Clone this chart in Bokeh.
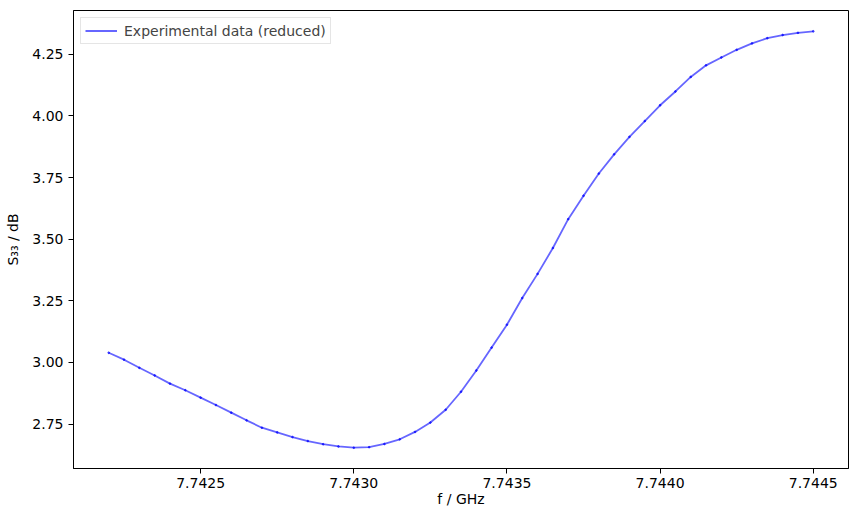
from bokeh.plotting import figure
from bokeh.models import FixedTicker, PrintfTickFormatter, Range1d
from bokeh.embed import file_html
from bokeh.resources import INLINE

# Frequencies (GHz) and reflection S33 (dB)
freq_ghz = [7.74220 + 0.00005 * k for k in range(47)]
s33_db = [3.039, 3.011, 2.978, 2.947, 2.914, 2.887, 2.857, 2.827, 2.796, 2.765,
          2.735, 2.716, 2.697, 2.681, 2.668, 2.659, 2.654, 2.656, 2.669, 2.688,
          2.718, 2.756, 2.808, 2.881, 2.967, 3.060, 3.153, 3.261, 3.359, 3.464,
          3.581, 3.676, 3.766, 3.844, 3.915, 3.979, 4.043, 4.099, 4.158, 4.205,
          4.237, 4.268, 4.294, 4.315, 4.328, 4.337, 4.343]

x_ticks = [7.7425, 7.7430, 7.7435, 7.7440, 7.7445]
y_ticks = [2.75, 3.00, 3.25, 3.50, 3.75, 4.00, 4.25]
legend_text = "Experimental data (reduced)"

xmin, xmax = min(freq_ghz), max(freq_ghz)
ymin, ymax = min(s33_db), max(s33_db)
xm = 0.05 * (xmax - xmin)
ym = 0.05 * (ymax - ymin)

p = figure(width=850, height=509, output_backend="svg", toolbar_location=None,
           x_range=Range1d(xmin - xm, xmax + xm), y_range=Range1d(ymin - ym, ymax + ym),
           min_border_left=73, min_border_right=2, min_border_top=10, min_border_bottom=38)

p.line(freq_ghz, s33_db, line_color="blue", line_alpha=0.6, line_width=1.8, legend_label=legend_text)
p.scatter(freq_ghz, s33_db, size=1.8, fill_color="blue", line_color="blue", alpha=0.6)

p.xgrid.visible = False
p.ygrid.visible = False
p.outline_line_color = "black"
p.outline_line_width = 1

for ax in (p.xaxis[0], p.yaxis[0]):
    ax.axis_line_color = "black"
    ax.major_tick_line_color = "black"
    ax.minor_tick_line_color = None
    ax.major_tick_out = 5
    ax.major_tick_in = 0
    ax.major_label_text_font = "DejaVu Sans"
    ax.major_label_text_font_size = "14px"
    ax.major_label_text_color = "black"
    ax.axis_label_text_font = "DejaVu Sans"
    ax.axis_label_text_font_size = "14px"
    ax.axis_label_text_font_style = "normal"
    ax.axis_label_text_color = "black"

p.xaxis[0].ticker = FixedTicker(ticks=x_ticks)
p.xaxis[0].formatter = PrintfTickFormatter(format="%.4f")
p.yaxis[0].ticker = FixedTicker(ticks=y_ticks)
p.yaxis[0].formatter = PrintfTickFormatter(format="%.2f")
p.xaxis[0].axis_label = "f / GHz"
p.yaxis[0].axis_label = "S₃₃ / dB"
p.xaxis[0].major_label_standoff = 4
p.xaxis[0].axis_label_standoff = 0
p.yaxis[0].major_label_standoff = 5
p.yaxis[0].axis_label_standoff = 8

p.legend.location = "top_left"
p.legend.label_text_font = "DejaVu Sans"
p.legend.label_text_font_size = "14px"
p.legend.border_line_color = "#cccccc"
p.legend.border_line_width = 1
p.legend.background_fill_alpha = 0.8
p.legend.margin = 7
p.legend.padding = 4
p.legend.spacing = 0
p.legend.glyph_width = 32
p.legend.glyph_height = 17
p.legend.label_standoff = 7

open("out.html", "w").write(file_html(p, INLINE))
